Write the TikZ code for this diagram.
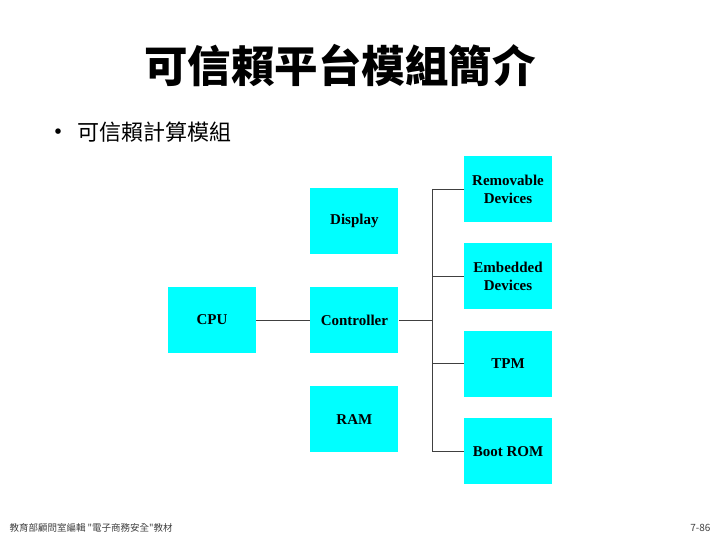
\documentclass[tikz,border=0pt]{standalone}
\usepackage{fontspec}
\setmainfont{Liberation Serif}
\newfontfamily\cjk{Noto Sans CJK TC}
\usetikzlibrary{positioning}
\definecolor{boxcyan}{RGB}{0,255,255}

\begin{document}
\begin{tikzpicture}[x=1pt, y=-1pt,
    block/.style={rectangle, fill=boxcyan, minimum width=88pt, minimum height=66pt, inner sep=0pt, align=center, font=\bfseries\fontsize{15}{18}\selectfont},
    wire/.style={draw=black!75, line width=0.8pt}]
    \useasboundingbox (0,0) rectangle (720,540);

    % title and bullet
    \node [font=\cjk\bfseries\fontsize{43.5}{46}\selectfont] (title) at (340,66) {可信賴平台模組簡介};
    \node [anchor=west, font=\cjk\fontsize{22}{25}\selectfont] (bullet) at (42,132) {\raisebox{-1.5pt}{\fontsize{26}{26}\selectfont•}\hspace{6pt}可信賴計算模組};

    % left part
    \node [block] (cpu) at (212,320) {CPU};
    \node [block, right=54pt of cpu] (controller) {Controller};
    \node [block, above=33pt of controller] (display) {Display};
    \node [block, below=33pt of controller] (ram) {RAM};

    % right column
    \node [block] (removable) at (508,189) {Removable\\Devices};
    \node [block, below=21pt of removable] (embedded) {Embedded\\Devices};
    \node [block, below=21pt of embedded] (tpm) {TPM};
    \node [block, below=21pt of tpm] (bootrom) {Boot ROM};

    \coordinate (bus) at (432,320);

    \draw [wire] (cpu) -- (controller);
    \draw [wire] (controller) -- (bus);
    \draw [wire] (bus |- removable) -- (bus |- bootrom);
    \draw [wire] (bus |- removable) -- (removable);
    \draw [wire] (bus |- embedded) -- (embedded);
    \draw [wire] (bus |- tpm) -- (tpm);
    \draw [wire] (bus |- bootrom) -- (bootrom);

    % footer
    \node [anchor=west, font=\cjk\fontsize{9.5}{11}\selectfont, text=black!75] (source) at (6,528) {教育部顧問室編輯 "電子商務安全"教材};
    \node [anchor=east, font=\cjk\fontsize{10}{12}\selectfont, text=black!75] (page) at (714,528) {7-86};
\end{tikzpicture}
\end{document}
